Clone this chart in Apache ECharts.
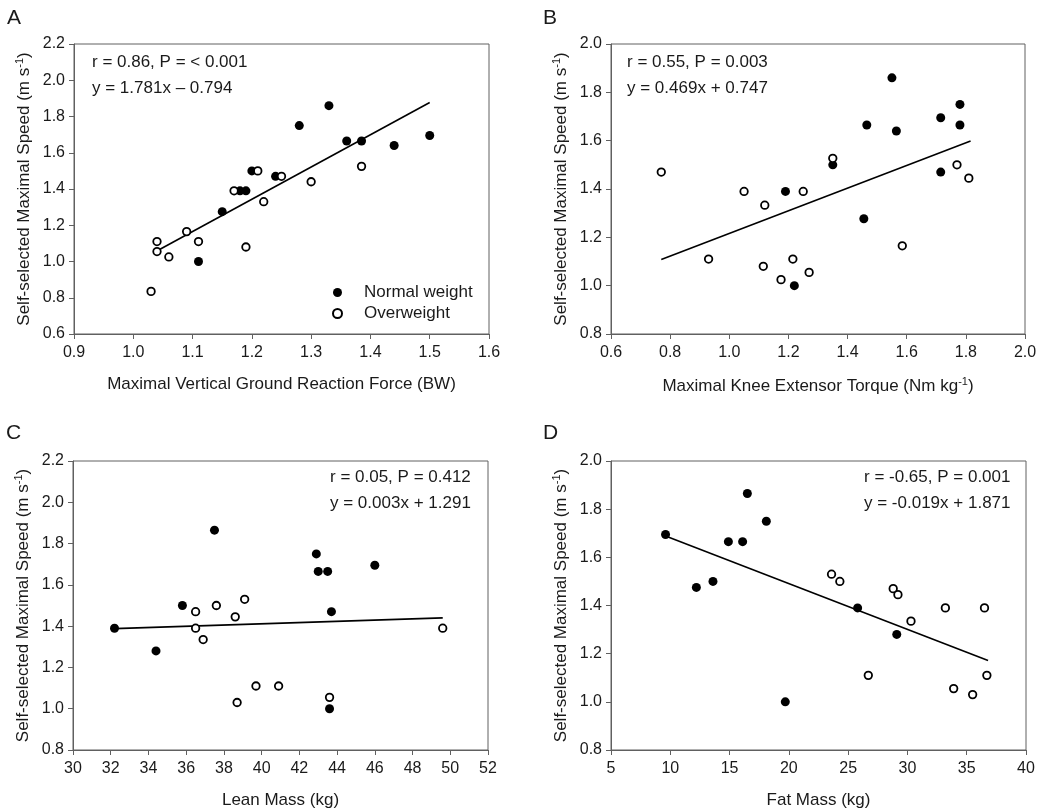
<!DOCTYPE html>
<html>
<head>
<meta charset="utf-8">
<script src="https://cdn.jsdelivr.net/npm/echarts@6/dist/echarts.min.js"></script>
<style>
html,body{margin:0;padding:0;background:#fff;}
#chart{width:1050px;height:810px;}
</style>
</head>
<body>
<div id="chart"></div>
<script>
// ---------- Panel A: Maximal Vertical Ground Reaction Force ----------
const aNormalX = [1.33, 1.28, 1.36, 1.385, 1.44, 1.50, 1.20, 1.24, 1.18, 1.19, 1.15, 1.11];
const aNormalY = [1.86, 1.75, 1.665, 1.665, 1.64, 1.695, 1.50, 1.47, 1.39, 1.39, 1.275, 1.00];
const aOverX = [1.385, 1.30, 1.22, 1.09, 1.04, 1.11, 1.04, 1.06, 1.19, 1.03, 1.17, 1.21, 1.25];
const aOverY = [1.525, 1.44, 1.33, 1.165, 1.11, 1.11, 1.055, 1.025, 1.08, 0.835, 1.39, 1.50, 1.47];
const aLineX = [1.035, 1.50];
const aLineY = [1.050, 1.877];

// ---------- Panel B: Maximal Knee Extensor Torque ----------
const bNormalX = [1.55, 1.78, 1.715, 1.78, 1.465, 1.565, 1.35, 1.715, 1.19, 1.455, 1.22];
const bNormalY = [1.86, 1.75, 1.695, 1.665, 1.665, 1.64, 1.50, 1.47, 1.39, 1.277, 1.00];
const bOverX = [0.77, 1.35, 1.77, 1.81, 1.05, 1.25, 1.12, 1.585, 0.93, 1.215, 1.115, 1.27, 1.175];
const bOverY = [1.47, 1.527, 1.50, 1.445, 1.39, 1.39, 1.333, 1.165, 1.11, 1.11, 1.08, 1.055, 1.025];
const bLineX = [0.77, 1.816];
const bLineY = [1.108, 1.599];

// ---------- Panel C: Lean Mass ----------
const cNormalX = [37.5, 42.9, 43.0, 43.5, 46.0, 35.8, 43.7, 32.2, 34.4, 43.6];
const cNormalY = [1.865, 1.75, 1.665, 1.665, 1.695, 1.50, 1.47, 1.39, 1.28, 1.00];
const cOverX = [39.1, 37.6, 36.5, 38.6, 36.5, 49.6, 36.9, 39.7, 40.9, 43.6, 38.7];
const cOverY = [1.53, 1.50, 1.47, 1.445, 1.39, 1.39, 1.335, 1.11, 1.11, 1.055, 1.03];
const cLineX = [32.2, 49.6];
const cLineY = [1.388, 1.440];

// ---------- Panel D: Fat Mass ----------
const dNormalX = [16.5, 18.1, 9.6, 14.9, 16.1, 13.6, 12.2, 25.8, 29.1, 19.7];
const dNormalY = [1.865, 1.75, 1.695, 1.665, 1.665, 1.50, 1.475, 1.39, 1.28, 1.00];
const dOverX = [23.6, 24.3, 28.8, 29.2, 33.2, 36.5, 30.3, 26.7, 36.7, 33.9, 35.5];
const dOverY = [1.53, 1.50, 1.47, 1.445, 1.39, 1.39, 1.335, 1.11, 1.11, 1.055, 1.03];
const dLineX = [9.6, 36.8];
const dLineY = [1.689, 1.172];

// ---------- Axis settings / labels ----------
const panelLetters = ['A', 'B', 'C', 'D'];
const xTitles = [
  'Maximal Vertical Ground Reaction Force (BW)',
  'Maximal Knee Extensor Torque (Nm kg{sup|-1})',
  'Lean Mass (kg)',
  'Fat Mass (kg)'
];
const yTitle = 'Self-selected Maximal Speed (m s{sup|-1})';
const xRanges = [[0.9, 1.6, 0.1], [0.6, 2.0, 0.2], [30, 52, 2], [5, 40, 5]];
const yRanges = [[0.6, 2.2, 0.2], [0.8, 2.0, 0.2], [0.8, 2.2, 0.2], [0.8, 2.0, 0.2]];
const xDecimals = [1, 1, 0, 0];
const statLines = [
  ['r = 0.86, P = < 0.001', 'y = 1.781x \u2013 0.794'],
  ['r = 0.55, P = 0.003', 'y = 0.469x + 0.747'],
  ['r = 0.05, P = 0.412', 'y = 0.003x + 1.291'],
  ['r = -0.65, P = 0.001', 'y = -0.019x + 1.871']
];
const legendNames = ['Normal weight', 'Overweight'];

const zip = (xs, ys) => xs.map((x, i) => [x, ys[i]]);
const panels = [
  {n: zip(aNormalX, aNormalY), o: zip(aOverX, aOverY), l: zip(aLineX, aLineY)},
  {n: zip(bNormalX, bNormalY), o: zip(bOverX, bOverY), l: zip(bLineX, bLineY)},
  {n: zip(cNormalX, cNormalY), o: zip(cOverX, cOverY), l: zip(cLineX, cLineY)},
  {n: zip(dNormalX, dNormalY), o: zip(dOverX, dOverY), l: zip(dLineX, dLineY)}
];

const FONT = "'Liberation Sans', Arial, Helvetica, sans-serif";
const TXT = '#1a1a1a';
const AX = '#606060';

const grids = [
  {left: 74, top: 44, width: 415, height: 290},
  {left: 611, top: 44, width: 414, height: 290},
  {left: 73, top: 461, width: 415, height: 289},
  {left: 611, top: 461, width: 415, height: 289}
].map(g => Object.assign(g, {show: true, borderColor: AX, borderWidth: 1, containLabel: false}));

const richSup = {
  sup: {fontSize: 11, verticalAlign: 'top', lineHeight: 20, fontFamily: FONT, color: TXT, padding: [0, 0, 6, 0]}
};

const xAxes = xRanges.map((r, i) => ({
  type: 'value', gridIndex: i, min: r[0], max: r[1], interval: r[2],
  name: xTitles[i], nameLocation: 'middle', nameGap: 42,
  nameTextStyle: {fontSize: 17, fontFamily: FONT, color: TXT, rich: richSup},
  axisLine: {lineStyle: {color: AX, width: 1}},
  axisTick: {show: true, length: 5, lineStyle: {color: AX}},
  axisLabel: {fontSize: 16, fontFamily: FONT, color: TXT, margin: 11,
    formatter: v => v.toFixed(xDecimals[i])},
  splitLine: {show: false}
}));
const yAxes = yRanges.map((r, i) => ({
  type: 'value', gridIndex: i, min: r[0], max: r[1], interval: r[2],
  name: yTitle, nameLocation: 'middle', nameGap: 40, nameRotate: 90,
  nameTextStyle: {fontSize: 17, fontFamily: FONT, color: TXT, rich: richSup},
  axisLine: {lineStyle: {color: AX, width: 1}},
  axisTick: {show: true, length: 5, lineStyle: {color: AX}},
  axisLabel: {fontSize: 16, fontFamily: FONT, color: TXT, margin: 9,
    formatter: v => v.toFixed(1)},
  splitLine: {show: false}
}));

const series = [];
panels.forEach((p, i) => {
  series.push({
    type: 'line', xAxisIndex: i, yAxisIndex: i, data: p.l, showSymbol: false,
    lineStyle: {color: '#000', width: 1.6}, silent: true, z: 1
  });
  series.push({
    name: legendNames[0], type: 'scatter', xAxisIndex: i, yAxisIndex: i, data: p.n,
    symbol: 'circle', symbolSize: 9, itemStyle: {color: '#000', opacity: 1}, z: 3
  });
  series.push({
    name: legendNames[1], type: 'scatter', xAxisIndex: i, yAxisIndex: i, data: p.o,
    symbol: 'circle', symbolSize: 7.5,
    itemStyle: {color: '#fff', borderColor: '#000', borderWidth: 1.8, opacity: 1}, z: 4
  });
});

const letterPos = [[7, 8], [543, 8], [6, 423], [543, 423]];
const statPos = [[92, 62], [627, 62], [330, 477], [864, 477]];
const graphic = [];
panelLetters.forEach((t, i) => {
  graphic.push({type: 'text', x: letterPos[i][0], y: letterPos[i][1],
    style: {text: t, font: '21px ' + FONT, fill: TXT}});
  statLines[i].forEach((s, k) => {
    graphic.push({type: 'text', x: statPos[i][0], y: statPos[i][1] + k * 26,
      style: {text: s, font: '17px ' + FONT, fill: TXT, verticalAlign: 'middle'}});
  });
});

const chart = echarts.init(document.getElementById('chart'), null, {renderer: 'canvas'});
chart.setOption({
  animation: false,
  backgroundColor: '#fff',
  grid: grids,
  xAxis: xAxes,
  yAxis: yAxes,
  legend: {
    data: legendNames, orient: 'vertical', left: 327, top: 279, itemGap: 4,
    itemWidth: 9, itemHeight: 9, selectedMode: false,
    textStyle: {fontSize: 17, fontFamily: FONT, color: TXT, padding: [0, 0, 0, 17]}
  },
  series: series,
  graphic: graphic
});
</script>
</body>
</html>
